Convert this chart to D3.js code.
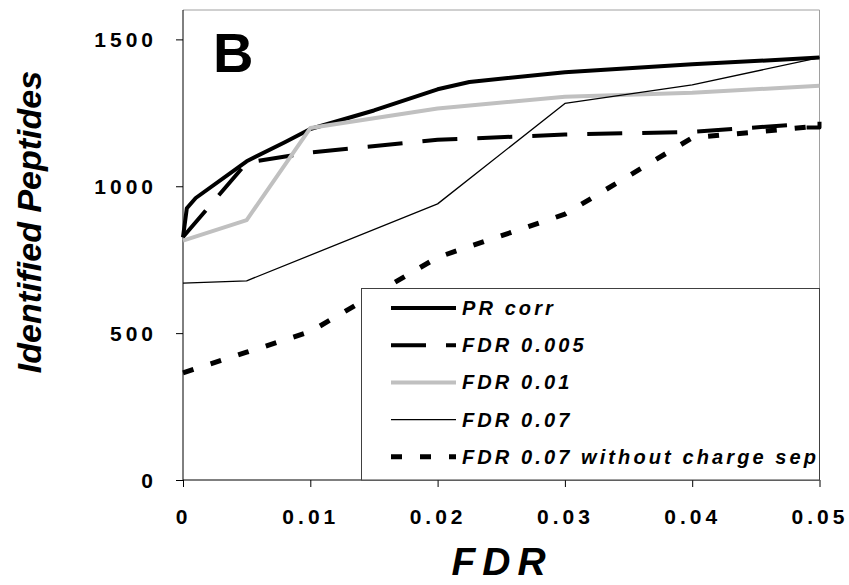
<!DOCTYPE html>
<html>
<head>
<meta charset="utf-8">
<script src="https://cdn.jsdelivr.net/npm/d3@7"></script>
<style>
	body { margin: 0; background: #fff; }
	svg text { font-family: "Liberation Sans", Arial, sans-serif; font-weight: bold; }
</style>
</head>
<body>
<div id="chart"></div>
<script>
// axis ticks
const xTicks = [0, 0.01, 0.02, 0.03, 0.04, 0.05];
const yTicks = [0, 500, 1000, 1500];
const seriesNames = ["PR corr", "FDR 0.005", "FDR 0.01", "FDR 0.07", "FDR 0.07 without charge sep"];

// series values (FDR, identified peptides)
const prCorrFdr = [0, 0.0003, 0.001, 0.005, 0.008, 0.01, 0.015, 0.02, 0.0225, 0.03, 0.04, 0.05];
const prCorrPeptides = [826, 925, 960, 1085, 1150, 1195, 1258, 1330, 1355, 1388, 1415, 1438];

const fdr005Fdr = [0, 0.005, 0.01, 0.02, 0.03, 0.04, 0.0475, 0.048, 0.05, 0.05];
const fdr005Peptides = [827, 1080, 1115, 1158, 1176, 1185, 1208, 1200, 1200, 1220];

const fdr01Fdr = [0, 0.005, 0.01, 0.02, 0.03, 0.04, 0.05];
const fdr01Peptides = [815, 885, 1198, 1265, 1305, 1318, 1342];

const fdr07Fdr = [0, 0.005, 0.02, 0.03, 0.04, 0.05];
const fdr07Peptides = [670, 678, 940, 1282, 1345, 1438];

const noSepFdr = [0, 0.005, 0.01, 0.02, 0.03, 0.04, 0.05];
const noSepPeptides = [365, 435, 505, 758, 905, 1165, 1205];

const seriesStyles = [
	{ stroke: "#000", width: 4, dash: null },
	{ stroke: "#000", width: 4, dash: "35,20" },
	{ stroke: "#c0c0c0", width: 4, dash: null },
	{ stroke: "#000", width: 1.3, dash: null },
	{ stroke: "#000", width: 5, dash: "11,18" },
];

const width = 849, height = 585;
const plot = { left: 183, right: 819.5, top: 10, bottom: 480 };

const svg = d3.select("#chart").append("svg")
	.attr("width", width)
	.attr("height", height);

const x = d3.scaleLinear().domain([0, 0.05]).range([plot.left, plot.right]);
const y = d3.scaleLinear().domain([0, 1600]).range([plot.bottom, plot.top]);

const seriesData = [
	[prCorrFdr, prCorrPeptides],
	[fdr005Fdr, fdr005Peptides],
	[fdr01Fdr, fdr01Peptides],
	[fdr07Fdr, fdr07Peptides],
	[noSepFdr, noSepPeptides],
].map(([xs, ys]) => xs.map((f, i) => ({ fdr: f, peptides: ys[i] })));

// frame (top / right in gray)
svg.append("path")
	.attr("d", `M${plot.left},${plot.top}H${plot.right}V${plot.bottom}`)
	.attr("fill", "none")
	.attr("stroke", "#a0a0a0")
	.attr("stroke-width", 1);

// y axis
const yAxis = svg.append("g")
	.attr("transform", `translate(${plot.left},0)`)
	.call(d3.axisLeft(y).tickValues(yTicks).tickSize(7).tickFormat(d3.format("d")));
yAxis.select(".domain").attr("d", `M0,${plot.top}V${plot.bottom}`).attr("stroke", "#000");
yAxis.selectAll("text")
	.attr("x", -26)
	.attr("dy", "0.36em")
	.style("font-size", "21px")
	.style("letter-spacing", "4px")
	.attr("fill", "#000");

// x axis
const xAxis = svg.append("g")
	.attr("transform", `translate(0,${plot.bottom})`)
	.call(d3.axisBottom(x).tickValues(xTicks).tickSize(7).tickFormat(d => d === 0 ? "0" : d3.format(".2f")(d)));
xAxis.select(".domain").attr("d", `M${plot.left},0H${plot.right}`).attr("stroke", "#000");
xAxis.selectAll("text")
	.attr("y", 44)
	.attr("dy", 0)
	.style("font-size", "21px")
	.style("letter-spacing", "4px")
	.attr("fill", "#000");

// lines
const line = d3.line().x(d => x(d.fdr)).y(d => y(d.peptides));
seriesData.forEach((data, i) => {
	const s = seriesStyles[i];
	svg.append("path")
		.datum(data)
		.attr("d", line)
		.attr("fill", "none")
		.attr("stroke", s.stroke)
		.attr("stroke-width", s.width)
		.attr("stroke-dasharray", s.dash)
		.attr("stroke-linejoin", "round");
});

// panel letter
svg.append("text")
	.attr("x", 213)
	.attr("y", 72)
	.style("font-size", "56px")
	.text("B");

// legend
const legend = svg.append("g");
legend.append("rect")
	.attr("x", 361.5)
	.attr("y", 288.5)
	.attr("width", plot.right - 361.5)
	.attr("height", plot.bottom - 288.5)
	.attr("fill", "#fff")
	.attr("stroke", "#404040")
	.attr("stroke-width", 1);

seriesNames.forEach((name, i) => {
	const s = seriesStyles[i];
	const cy = 308 + i * 37.2;
	legend.append("line")
		.attr("x1", 391).attr("x2", 456)
		.attr("y1", cy).attr("y2", cy)
		.attr("stroke", s.stroke)
		.attr("stroke-width", s.width)
		.attr("stroke-dasharray", s.dash);
	legend.append("text")
		.attr("x", 462)
		.attr("y", cy + 7)
		.style("font-size", "20px")
		.style("font-style", "italic")
		.style("letter-spacing", "3.1px")
		.text(name);
});

// axis titles
svg.append("text")
	.attr("transform", `translate(41,222) rotate(-90)`)
	.attr("text-anchor", "middle")
	.style("font-size", "34px")
	.style("font-style", "italic")
	.text("Identified Peptides");

svg.append("text")
	.attr("x", 502)
	.attr("y", 575)
	.attr("text-anchor", "middle")
	.style("font-size", "39px")
	.style("font-style", "italic")
	.style("letter-spacing", "7px")
	.text("FDR");
</script>
</body>
</html>
